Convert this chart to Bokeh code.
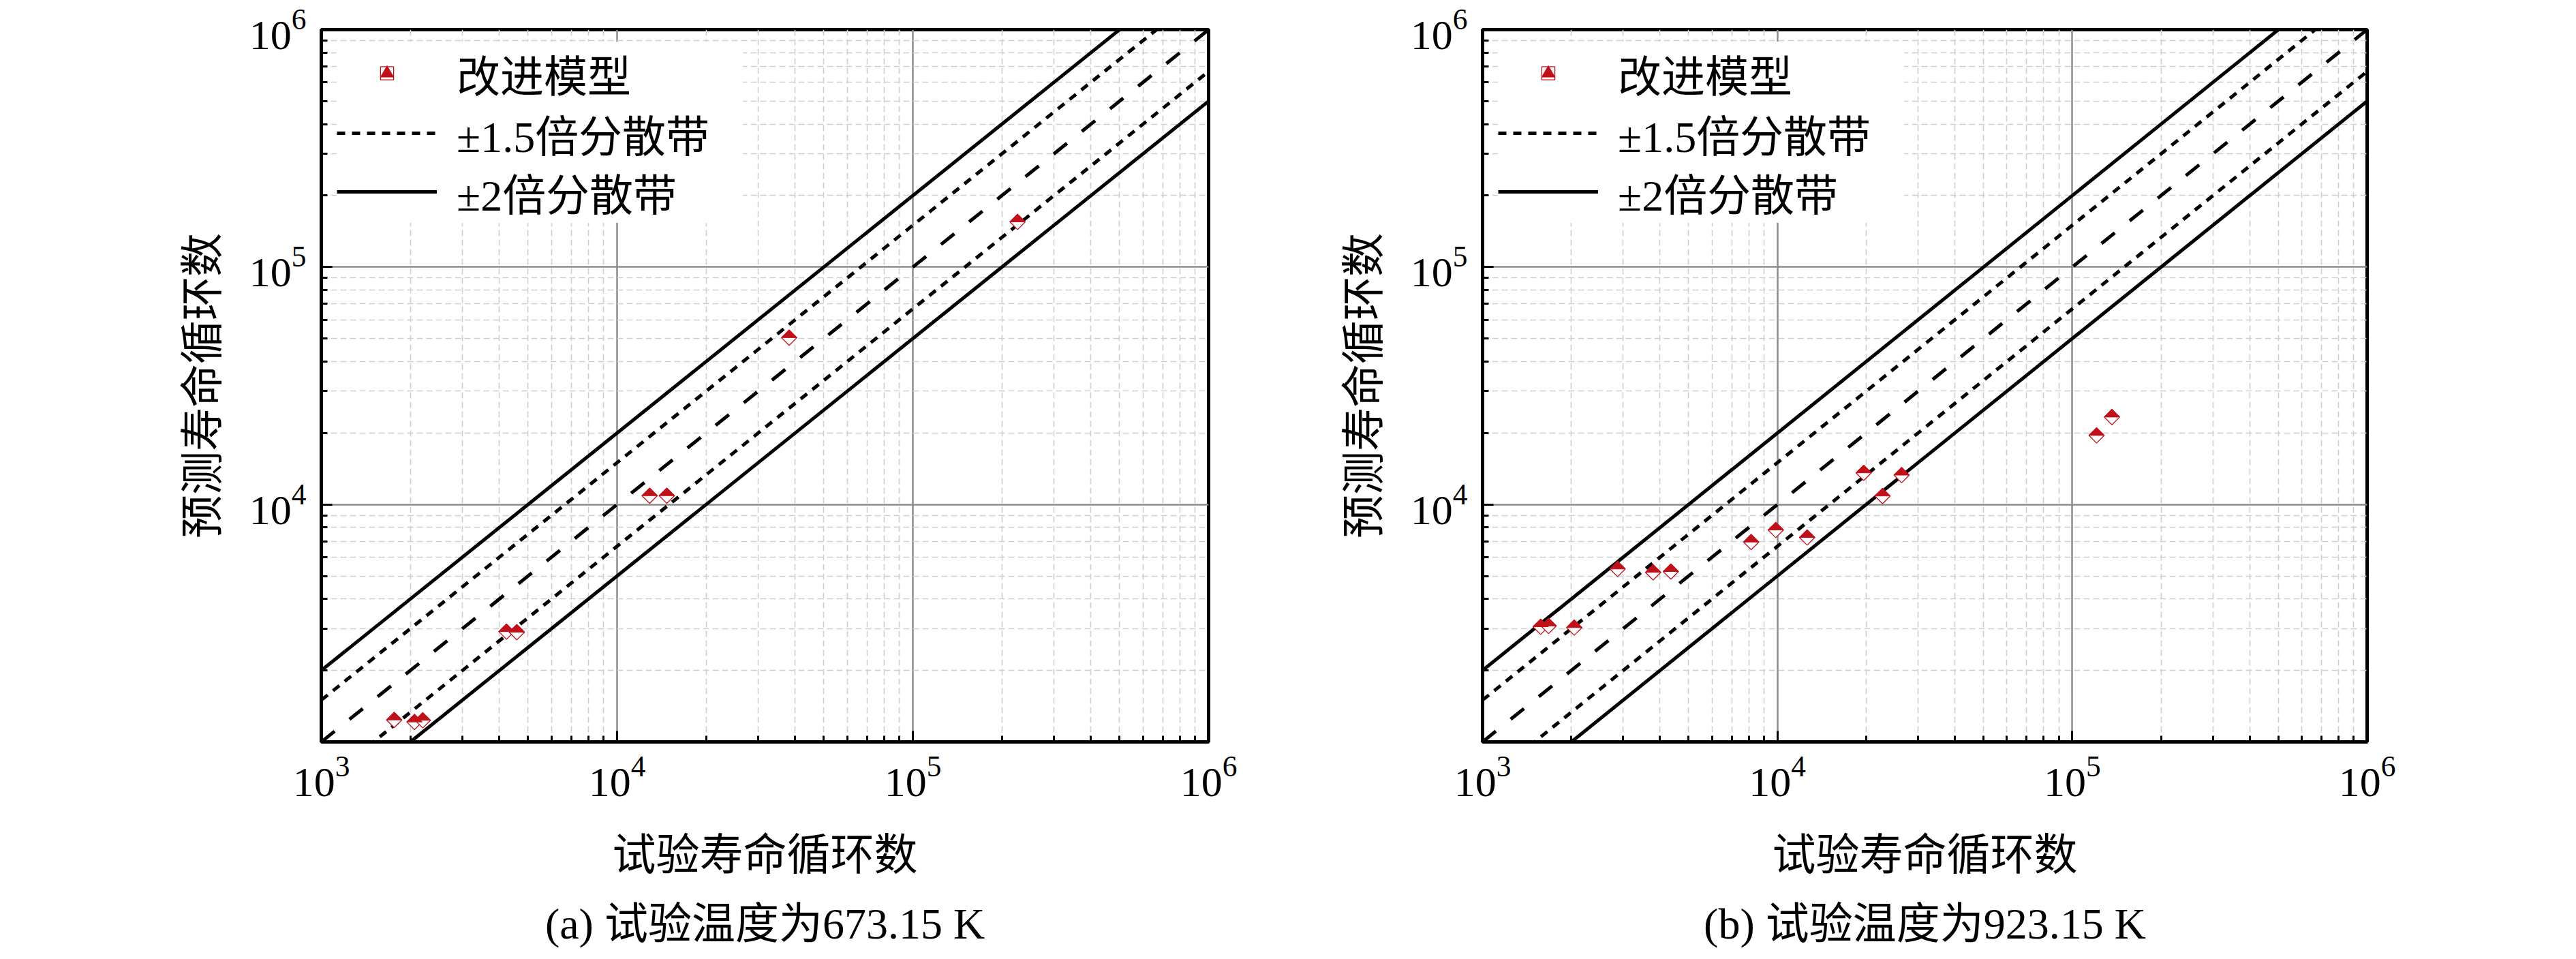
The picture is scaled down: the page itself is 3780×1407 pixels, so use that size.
import numpy as np
from bokeh.plotting import figure
from bokeh.layouts import row, column
from bokeh.models import (FixedTicker, LogTickFormatter, Legend, LegendItem,
                          Label, ColumnDataSource)
from bokeh.embed import file_html
from bokeh.resources import INLINE

# ---------------- data ----------------
# (a) 673.15 K
a_test = [1764, 2065, 2203, 4227, 4581, 12885, 14730, 38180, 226000]
a_pred = [1238, 1214, 1233, 2915, 2900, 10890, 10890, 50440, 155000]
# (b) 923.15 K
b_test = [1574, 1675, 2046, 2871, 3789, 4351, 8147, 9874, 12613,
          19617, 22730, 26380, 120900, 136300]
b_pred = [3055, 3080, 3030, 5350, 5180, 5220, 6950, 7810, 7262,
          13590, 10860, 13300, 19540, 23350]

band_factors_2 = [2.0, 0.5]
band_factors_15 = [1.5, 1 / 1.5]
axis_limits = [1e3, 1e6]
major_ticks_x = [1e3, 1e4, 1e5, 1e6]
major_ticks_y = [1e4, 1e5, 1e6]
minor_ticks = [m * 10 ** e for e in (3, 4, 5) for m in range(2, 10)]

legend_labels = ["改进模型", "±1.5倍分散带", "±2倍分散带"]
x_title = "试验寿命循环数"
y_title = "预测寿命循环数"
captions = ["(a) 试验温度为673.15 K", "(b) 试验温度为923.15 K"]

FONT = "'Liberation Serif', 'Noto Sans CJK SC'"
RED = "#c0111a"
HALF_DIAG = 11.3  # px
FIG_W = 1882
FIG_H = 1300
CAP_H = 91
TOP = 43
FRAME_H = 1045
LEG_ROW_TOP = [5, 93, 179]   # px below frame top, one legend row each
LEG_ROW_H = 97 + 2 * 4


def make_panel(xs, ys, left, right):
    p = figure(width=FIG_W, height=FIG_H, x_axis_type="log", y_axis_type="log",
               x_range=(axis_limits[0], axis_limits[1]),
               y_range=(axis_limits[0], axis_limits[1]),
               output_backend="svg", toolbar_location=None,
               min_border_left=left, min_border_right=right,
               min_border_top=TOP, min_border_bottom=FIG_H - TOP - FRAME_H,
               background_fill_color="white", border_fill_color="white")
    p.outline_line_color = "black"
    p.outline_line_width = 5

    p.xaxis.ticker = FixedTicker(ticks=major_ticks_x, minor_ticks=minor_ticks)
    p.yaxis.ticker = FixedTicker(ticks=major_ticks_y, minor_ticks=minor_ticks)
    for ax in (p.xaxis, p.yaxis):
        ax.formatter = LogTickFormatter(min_exponent=0)
        ax.axis_line_color = "black"
        ax.axis_line_width = 5
        ax.major_tick_in = 16
        ax.major_tick_out = 0
        ax.minor_tick_in = 9
        ax.minor_tick_out = 0
        ax.major_tick_line_width = 3
        ax.minor_tick_line_width = 3
        ax.major_tick_line_color = "black"
        ax.minor_tick_line_color = "black"
        ax.major_label_text_font = FONT
        ax.major_label_text_font_size = "62px"
        ax.major_label_text_color = "black"
        ax.axis_label_text_font = FONT
        ax.axis_label_text_font_size = "64px"
        ax.axis_label_text_font_style = "normal"
        ax.axis_label_text_color = "black"
    p.xaxis.major_label_standoff = 22
    p.yaxis.major_label_standoff = 22
    p.xaxis.axis_label = x_title
    p.yaxis.axis_label = y_title
    p.xaxis.axis_label_standoff = 48
    p.yaxis.axis_label_standoff = 30

    for g in (p.xgrid, p.ygrid):
        g.grid_line_color = "#8c8c8c"
        g.grid_line_width = 2.5
        g.minor_grid_line_color = "#cfcfcf"
        g.minor_grid_line_width = 1.6
        g.minor_grid_line_dash = "9 5"

    xl = np.array(axis_limits)
    # 1:1 line
    p.line(xl, xl, line_color="black", line_width=5, line_dash="25 28")
    r15 = None
    for k in band_factors_15:
        r15 = p.line(xl, xl * k, line_color="black", line_width=5, line_dash="12 10")
    r2 = None
    for k in band_factors_2:
        r2 = p.line(xl, xl * k, line_color="black", line_width=5)

    xs = np.array(xs, dtype=float)
    ys = np.array(ys, dtype=float)
    src = ColumnDataSource(dict(x=xs, y=ys))
    rd = p.scatter("x", "y", source=src, marker="square", angle=np.pi / 4, size=16,
                   fill_color="white", line_color=RED, line_width=1.3)
    fx = 10 ** (HALF_DIAG / 434.0)
    fy = 10 ** (HALF_DIAG / 348.0)
    tri_x = [[x / fx, x * fx, x] for x in xs]
    tri_y = [[y, y, y * fy] for y in ys]
    p.patches(tri_x, tri_y, fill_color=RED, line_color=RED, line_width=1)
    rt = p.scatter("x", "y", source=src, marker="triangle", size=16,
                   fill_color=RED, line_color=RED, visible=False)

    items = [
        LegendItem(label=legend_labels[0], renderers=[rd, rt]),
        LegendItem(label=legend_labels[1], renderers=[r15]),
        LegendItem(label=legend_labels[2], renderers=[r2]),
    ]
    for item, top in zip(items, LEG_ROW_TOP):
        legend = Legend(items=[item],
                        location=(23, FRAME_H - top - LEG_ROW_H))
        legend.margin = 0
        legend.padding = 4
        legend.spacing = 0
        legend.glyph_width = 147
        legend.glyph_height = 48
        legend.label_standoff = 29
        legend.label_width = 420
        legend.label_text_font = FONT
        legend.label_text_font_size = "64px"
        legend.label_text_color = "black"
        legend.border_line_color = None
        legend.background_fill_color = "white"
        legend.background_fill_alpha = 1.0
        p.add_layout(legend, "center")
    return p


def make_caption(text, left, right):
    c = figure(width=FIG_W, height=CAP_H, x_axis_type=None, y_axis_type=None,
               output_backend="svg", toolbar_location=None,
               min_border=0, outline_line_color=None,
               background_fill_color="white", border_fill_color="white")
    c.grid.visible = False
    frame_w = FIG_W - left - right
    c.add_layout(Label(x=left + frame_w / 2, y=36, x_units="screen", y_units="screen",
                       text=text, text_align="center", text_baseline="middle",
                       text_font=FONT, text_font_size="64px", text_color="black"))
    return c


p1 = make_panel(a_test, a_pred, 471, 109)
p2 = make_panel(b_test, b_pred, 293, 291)
c1 = make_caption(captions[0], 471, 109)
c2 = make_caption(captions[1], 293, 291)
layout = column(row(p1, p2, spacing=0), row(c1, c2, spacing=0), spacing=0)

open("out.html", "w").write(file_html(layout, INLINE))
